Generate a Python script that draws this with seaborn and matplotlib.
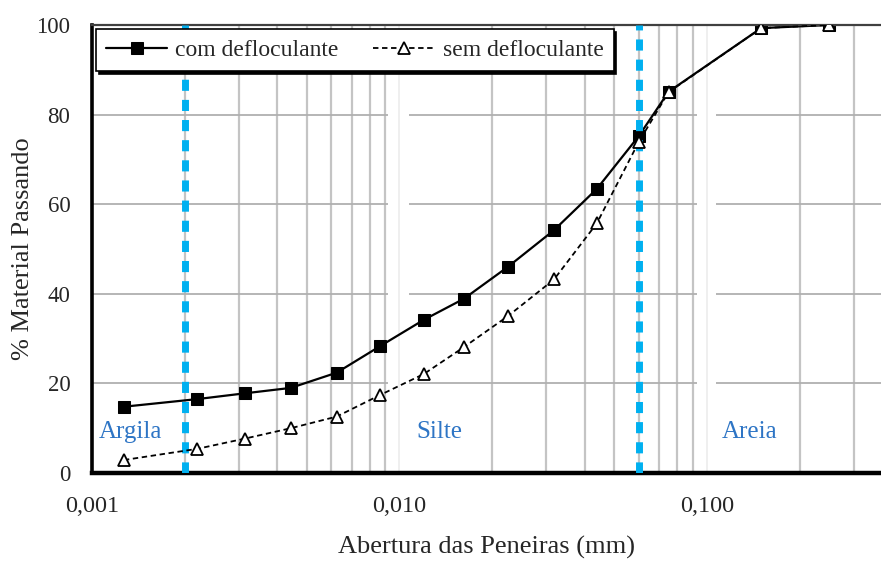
import numpy as np
import pandas as pd
import matplotlib
matplotlib.use("Agg")
import matplotlib.pyplot as plt
import matplotlib.ticker as mticker
import seaborn as sns

# sieve openings (mm) and % passing
abertura = [0.00127, 0.0022, 0.00315, 0.00443, 0.00625, 0.00864, 0.0120, 0.0162,
            0.0225, 0.0318, 0.0438, 0.060, 0.075, 0.150, 0.250]
com_deflo = [14.8, 16.5, 17.8, 19.0, 22.4, 28.3, 34.2, 38.9, 46.0, 54.2, 63.4, 75.2, 85.1, 99.3, 100.0]
sem_deflo = [2.9, 5.4, 7.7, 10.0, 12.6, 17.4, 22.1, 28.1, 35.0, 43.2, 55.7, 73.9, 85.0, 99.3, 100.0]

limites = [0.002, 0.06]  # argila/silte, silte/areia
faixas = ["Argila", "Silte", "Areia"]
faixa_x = [0.00133, 0.0135, 0.138]
x_ticks = [0.001, 0.010, 0.100]
x_ticklabels = ["0,001", "0,010", "0,100"]
y_ticks = [0, 20, 40, 60, 80, 100]

df = pd.DataFrame({"abertura": abertura, "com": com_deflo, "sem": sem_deflo})

sns.set_style("white")
plt.rcParams["font.family"] = ["Liberation Serif", "DejaVu Serif"]

fig = plt.figure(figsize=(8.81, 5.64), dpi=100)
ax = fig.add_axes([0.1044, 0.1613, 0.8956, 0.7944])

ax.set_xscale("log")
ax.set_xlim(0.001, 0.368)
ax.set_ylim(0, 100)

# grid
ax.set_axisbelow(True)
ax.xaxis.set_minor_locator(mticker.LogLocator(base=10, subs=np.arange(2, 10)))
ax.grid(axis="x", which="minor", color="#c4c4c4", linewidth=1.6)
ax.grid(axis="x", which="major", color="#ececec", linewidth=1.2)
ax.grid(axis="y", which="major", color="#b0b0b0", linewidth=1.3)
# white gaps in the horizontal grid around 0.01 and 0.1
ax.axvspan(0.00918, 0.01074, color="white", zorder=0.7, lw=0)
ax.axvspan(0.0928, 0.107, color="white", zorder=0.7, lw=0)
for xv in x_ticks[1:]:
    ax.axvline(xv, color="#ececec", lw=1.2, zorder=0.8)

# data
sns.lineplot(data=df, x="abertura", y="com", ax=ax, color="black", lw=1.6,
             marker="s", markersize=9, markeredgecolor="black", markerfacecolor="black",
             label="com defloculante", sort=False, zorder=2)
for xv in limites:
    ax.axvline(xv, color="#00B0F0", lw=5, linestyle=(0, (1.6, 1.3)), zorder=3)
sns.lineplot(data=df, x="abertura", y="sem", ax=ax, color="black", lw=1.3,
             linestyle=(0, (3, 2)), marker="^", markersize=9,
             markerfacecolor="white", markeredgecolor="black", markeredgewidth=1.3,
             label="sem defloculante", sort=False, zorder=4)

for txt, xv in zip(faixas, faixa_x):
    ax.text(xv, 9.2, txt, color="#2E75C5", fontsize=18, ha="center", va="center")

# axes style
ax.spines["right"].set_visible(False)
ax.spines["top"].set_color("#404040")
ax.spines["top"].set_linewidth(1.6)
ax.spines["left"].set_color("black")
ax.spines["left"].set_linewidth(2.6)
ax.spines["bottom"].set_color("black")
ax.spines["bottom"].set_linewidth(3.2)

ax.xaxis.set_major_locator(mticker.FixedLocator(x_ticks))
ax.xaxis.set_major_formatter(mticker.FixedFormatter(x_ticklabels))
ax.set_yticks(y_ticks)
ax.tick_params(axis="both", which="major", direction="inout", length=13, width=2.6,
               color="black", labelsize=16.5, pad=9)
ax.tick_params(axis="x", which="minor", length=0)
ax.tick_params(axis="x", which="major", pad=10, labelsize=17.5)

ax.set_xlabel("Abertura das Peneiras (mm)", fontsize=19, labelpad=14)
ax.set_ylabel("% Material Passando", fontsize=19, labelpad=2)

leg = ax.legend(loc="upper left", bbox_to_anchor=(0.005, 0.99), borderaxespad=0,
                ncol=2, fontsize=17, frameon=True, fancybox=False, shadow={"color": "black", "alpha": 1},
                handlelength=2.6, columnspacing=1.45, handletextpad=0.35, borderpad=0.42)
leg.get_frame().set_edgecolor("black")
leg.get_frame().set_linewidth(1.2)
leg.get_frame().set_alpha(1)
leg.set_zorder(10)

fig.savefig("out.png", dpi=100)
